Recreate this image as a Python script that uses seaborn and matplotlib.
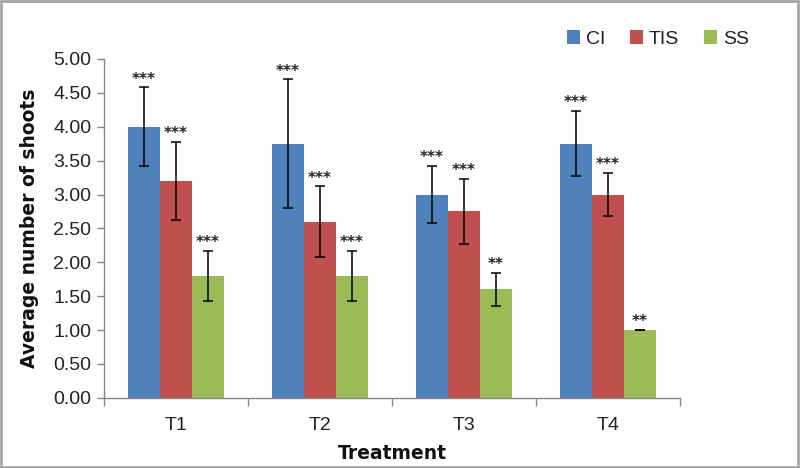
import matplotlib
matplotlib.use("Agg")
import matplotlib.pyplot as plt
import seaborn as sns
import pandas as pd
import numpy as np
from matplotlib.patches import Rectangle

treatments = ["T1", "T2", "T3", "T4"]
groups = ["CI", "TIS", "SS"]
ci_vals = [4.00, 3.75, 3.00, 3.75]
tis_vals = [3.20, 2.60, 2.75, 3.00]
ss_vals = [1.80, 1.80, 1.60, 1.00]
ci_err = [0.58, 0.95, 0.42, 0.48]
tis_err = [0.58, 0.52, 0.48, 0.32]
ss_err = [0.37, 0.37, 0.24, 0.00]
ci_sig = ["***", "***", "***", "***"]
tis_sig = ["***", "***", "***", "***"]
ss_sig = ["***", "***", "**", "**"]

colors = ["#4F81BD", "#C0504D", "#9BBB59"]

rows = []
for g, vals, errs, sigs in zip(groups, [ci_vals, tis_vals, ss_vals],
                               [ci_err, tis_err, ss_err], [ci_sig, tis_sig, ss_sig]):
    for t, v, e, s in zip(treatments, vals, errs, sigs):
        rows.append({"Treatment": t, "Group": g, "Value": v, "Err": e, "Sig": s})
df = pd.DataFrame(rows)

sns.set_theme(style="white")
plt.rcParams['font.family'] = ['Liberation Sans Narrow', 'Liberation Sans', 'DejaVu Sans']

fig = plt.figure(figsize=(8, 4.68), dpi=100)
ax = fig.add_axes([0.13, 0.15, 0.72, 0.724])

sns.barplot(data=df, x="Treatment", y="Value", hue="Group", order=treatments,
            hue_order=groups, palette=colors, width=0.667, gap=0, errorbar=None,
            saturation=1, ax=ax, linewidth=0)

# error bars and significance labels from bar positions
for gi, g in enumerate(groups):
    cont = ax.containers[gi]
    sub = df[df.Group == g].set_index("Treatment").loc[treatments]
    for bar, (_, r) in zip(cont.patches, sub.iterrows()):
        xc = bar.get_x() + bar.get_width() / 2
        h = bar.get_height()
        ax.errorbar(xc, h, yerr=r["Err"], fmt="none", ecolor="black",
                    elinewidth=1.1, capsize=3.5, capthick=1.1)
        ax.text(xc, h + r["Err"] + 0.01, r["Sig"], ha="center", va="bottom",
                fontsize=11, fontweight="bold", family="DejaVu Sans", color="#222222")

ax.set_ylim(0, 5)
ax.set_xlim(-0.5, 3.5)
ax.set_yticks(np.arange(0, 5.01, 0.5))
ax.set_yticklabels([f"{v:.2f}" for v in np.arange(0, 5.01, 0.5)], fontsize=14,
                   color="#222222")
ax.tick_params(axis="y", which="major", length=5, color="#868686", width=1,
               direction="out", left=True, pad=4)
ax.set_xticks(range(4))
ax.set_xticklabels(treatments, fontsize=14, color="#222222")
ax.set_xticks([-0.5, 0.5, 1.5, 2.5, 3.5], minor=True)
ax.tick_params(axis="x", which="major", length=0, pad=14)
ax.tick_params(axis="x", which="minor", length=6, color="#868686", width=1,
               direction="out", bottom=True)

for s in ["top", "right"]:
    ax.spines[s].set_visible(False)
for s in ["left", "bottom"]:
    ax.spines[s].set_color("#868686")
    ax.spines[s].set_linewidth(1)

ax.set_xlabel("Treatment", fontsize=13.5, fontweight="bold", family="DejaVu Sans",
              labelpad=7, color="#111111")
ax.set_ylabel("Average number of shoots", fontsize=13.5, fontweight="bold",
              family="DejaVu Sans", labelpad=10, color="#111111")

handles, labels = ax.get_legend_handles_labels()
ax.legend(handles, labels, loc="upper right", bbox_to_anchor=(0.953, 0.965),
          bbox_transform=fig.transFigure, ncol=3, frameon=False, fontsize=14,
          handlelength=0.65, handleheight=0.7, handletextpad=0.3, columnspacing=1.3,
          labelcolor="#222222", borderpad=0.2)

fig.patches.append(Rectangle((0.001, 0.002), 0.997, 0.995, transform=fig.transFigure,
                             fill=False, edgecolor="#A6A6A6", linewidth=2))

fig.savefig("out.png", dpi=100)
